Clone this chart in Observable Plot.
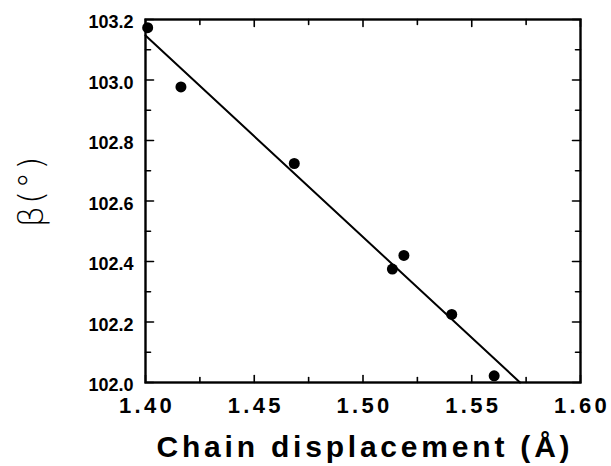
<!DOCTYPE html>
<html>
<head>
<meta charset="utf-8">
<script src="https://cdn.jsdelivr.net/npm/d3@7"></script>
<script src="https://cdn.jsdelivr.net/npm/@observablehq/plot@0.6"></script>
<style>
  html, body { margin: 0; padding: 0; background: #fff; }
  #chart svg { display: block; }
  .xlab text { letter-spacing: 3.3px; }
  .xtitle text { letter-spacing: 3.8px; }
  .ytitle text { letter-spacing: 2px; }
</style>
</head>
<body>
<div id="chart"></div>
<script>
// Data
const chainDisp = [1.401, 1.4163, 1.4684, 1.5135, 1.5188, 1.5408, 1.5603];
const betaDeg   = [103.173, 102.977, 102.724, 102.375, 102.420, 102.225, 102.022];
const fitX = [1.40, 1.5722];
const fitY = [103.147, 102.0];

const xMajor = [1.40, 1.45, 1.50, 1.55, 1.60];
const xMinor = [1.425, 1.475, 1.525, 1.575];
const yMajor = [102.0, 102.2, 102.4, 102.6, 102.8, 103.0, 103.2];
const yMinor = [102.1, 102.3, 102.5, 102.7, 102.9, 103.1];

const xTitle = "Chain displacement (Å)";
const yTitle = "β(°)";

const points = chainDisp.map((x, i) => ({x, y: betaDeg[i]}));
const fit = fitX.map((x, i) => ({x, y: fitY[i]}));

const tickShape = {draw(ctx, l) { ctx.moveTo(0, 0); ctx.lineTo(0, -l); }};
const tickMarks = (vals, axis, side, len) => Plot.vector(vals, {
  [axis]: d => d,
  frameAnchor: side,
  length: len,
  rotate: side === "bottom" ? 0 : side === "top" ? 180 : side === "left" ? 90 : -90,
  anchor: "start",
  shape: tickShape,
  stroke: "black",
  strokeWidth: 1.6
});

const font = "Liberation Sans, Arial, Helvetica, sans-serif";

const chart = Plot.plot({
  width: 611,
  height: 466,
  marginLeft: 145,
  marginRight: 31,
  marginTop: 19,
  marginBottom: 84,
  style: {fontFamily: font, background: "#fff", color: "black"},
  x: {domain: [1.40, 1.60], axis: null},
  y: {domain: [102.0, 103.2], axis: null},
  marks: [
    tickMarks(xMajor, "x", "bottom", 7),
    tickMarks(xMinor, "x", "bottom", 5),
    tickMarks(xMajor, "x", "top", 7),
    tickMarks(xMinor, "x", "top", 5),
    tickMarks(yMajor, "y", "left", 8),
    tickMarks(yMinor, "y", "left", 5),
    tickMarks(yMajor, "y", "right", 8),
    tickMarks(yMinor, "y", "right", 5),
    Plot.axisX(xMajor, {
      anchor: "bottom", tickSize: 0, tickPadding: 15, label: null,
      tickFormat: d3.format(".2f"), fontSize: 22, fontWeight: "bold",
      className: "xlab", dx: 1.6
    }),
    Plot.axisY(yMajor, {
      anchor: "left", tickSize: 0, tickPadding: 12, label: null,
      tickFormat: d3.format(".1f"), fontSize: 18, fontWeight: "bold", dy: 3
    }),
    Plot.line(fit, {x: "x", y: "y", stroke: "black", strokeWidth: 2}),
    Plot.dot(points, {x: "x", y: "y", r: 5.5, fill: "black", stroke: "none"}),
    Plot.frame({stroke: "black", strokeWidth: 2.4}),
    Plot.text([xTitle], {
      frameAnchor: "bottom", dy: 65, dx: 1.9, lineAnchor: "middle",
      fontSize: 30, fontWeight: "bold", text: d => d, className: "xtitle"
    }),
    Plot.text([yTitle], {
      frameAnchor: "left", textAnchor: "middle", dx: -113.5, dy: -10,
      rotate: -90, lineAnchor: "middle",
      fontSize: 34, text: d => d, fontFamily: "DejaVu Sans, sans-serif",
      fontWeight: 300, className: "ytitle"
    })
  ]
});
document.getElementById("chart").appendChild(chart);
</script>
</body>
</html>
